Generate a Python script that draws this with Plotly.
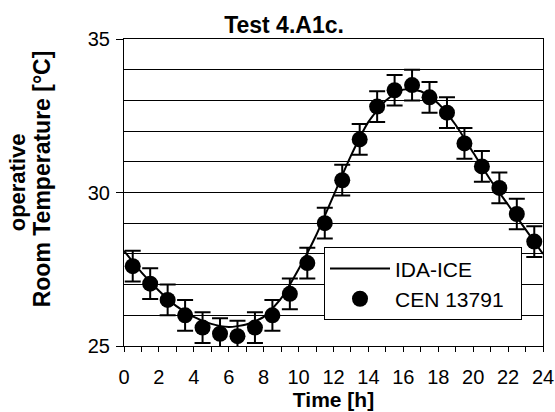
import plotly.graph_objects as go

# IDA-ICE simulation (hourly)
line_hours = list(range(0, 25))
line_temp = [28.1, 27.4, 26.8, 26.3, 25.95, 25.72, 25.62, 25.7, 25.95, 26.55, 27.5, 28.6,
             29.9, 31.2, 32.3, 33.0, 33.35, 33.3, 32.9, 32.2, 31.3, 30.4, 29.6, 28.8, 28.0]

# CEN 13791 reference values (half hours)
cen_hours = [h + 0.5 for h in range(24)]
cen_temp = [27.6, 27.03, 26.5, 26.0, 25.6, 25.4, 25.32, 25.6, 26.0, 26.7, 27.7, 29.0,
            30.4, 31.73, 32.8, 33.33, 33.5, 33.1, 32.6, 31.6, 30.85, 30.15, 29.3, 28.4]
cen_err = 0.5

x_tickvals = list(range(0, 25, 2))
y_tickvals = [25, 30, 35]

fig = go.Figure()
fig.add_trace(go.Scatter(
    x=line_hours, y=line_temp, mode="lines", name="IDA-ICE",
    line=dict(color="black", width=2, shape="spline", smoothing=0.6),
    cliponaxis=False,
))
fig.add_trace(go.Scatter(
    x=cen_hours, y=cen_temp, mode="markers", name="CEN 13791\u00a0\u00a0",
    marker=dict(color="black", size=16),
    error_y=dict(type="constant", value=cen_err, color="black", thickness=2, width=8),
    cliponaxis=False,
))

font = "Arial, Liberation Sans, sans-serif"
fig.update_layout(
    width=555, height=412,
    margin=dict(l=124, r=12, t=39, b=66, autoexpand=False),
    paper_bgcolor="white", plot_bgcolor="white",
    font=dict(family=font, color="black", size=20),
    title=dict(text="<b>Test 4.A1c.</b>", x=284 / 555, xref="container", xanchor="center",
               y=1 - 25 / 412, yanchor="middle", font=dict(size=23)),
    showlegend=True,
    legend=dict(x=(324 - 124) / 419, y=(345.7 - 247) / 307, xanchor="left", yanchor="top",
                bordercolor="black", borderwidth=1, bgcolor="white",
                font=dict(size=21), itemwidth=60),
    xaxis=dict(range=[0, 24], tickvals=x_tickvals, ticks="outside", ticklen=5,
               tickcolor="black", showline=True, linecolor="black", linewidth=1,
               mirror=True, showgrid=False, zeroline=False, ticklabelstandoff=8,
               automargin=False,
               minor=dict(dtick=1, ticks="outside", ticklen=5, tickcolor="black"),
               title=dict(text="<b>Time [h]</b>", font=dict(size=21), standoff=1),
               tickfont=dict(size=20)),
    yaxis=dict(range=[25, 35], tickvals=y_tickvals, ticks="outside", ticklen=7,
               tickcolor="black", showline=True, linecolor="black", linewidth=1,
               mirror=True, showgrid=False, zeroline=False, ticklabelstandoff=2,
               automargin=False,
               minor=dict(dtick=1, showgrid=True, gridcolor="black", gridwidth=1),
               tickfont=dict(size=20)),
)
fig.add_annotation(text="<b>operative</b>", xref="paper", yref="paper",
                   x=-(124 - 17) / 419, y=(345.7 - 182) / 307, textangle=-90, showarrow=False,
                   font=dict(size=22), xanchor="center", yanchor="middle")
fig.add_annotation(text="<b>Room Temperature [°C]</b>", xref="paper", yref="paper",
                   x=-(124 - 42) / 419, y=(345.7 - 179) / 307, textangle=-90, showarrow=False,
                   font=dict(size=23), xanchor="center", yanchor="middle")

fig.write_html("out.html")
